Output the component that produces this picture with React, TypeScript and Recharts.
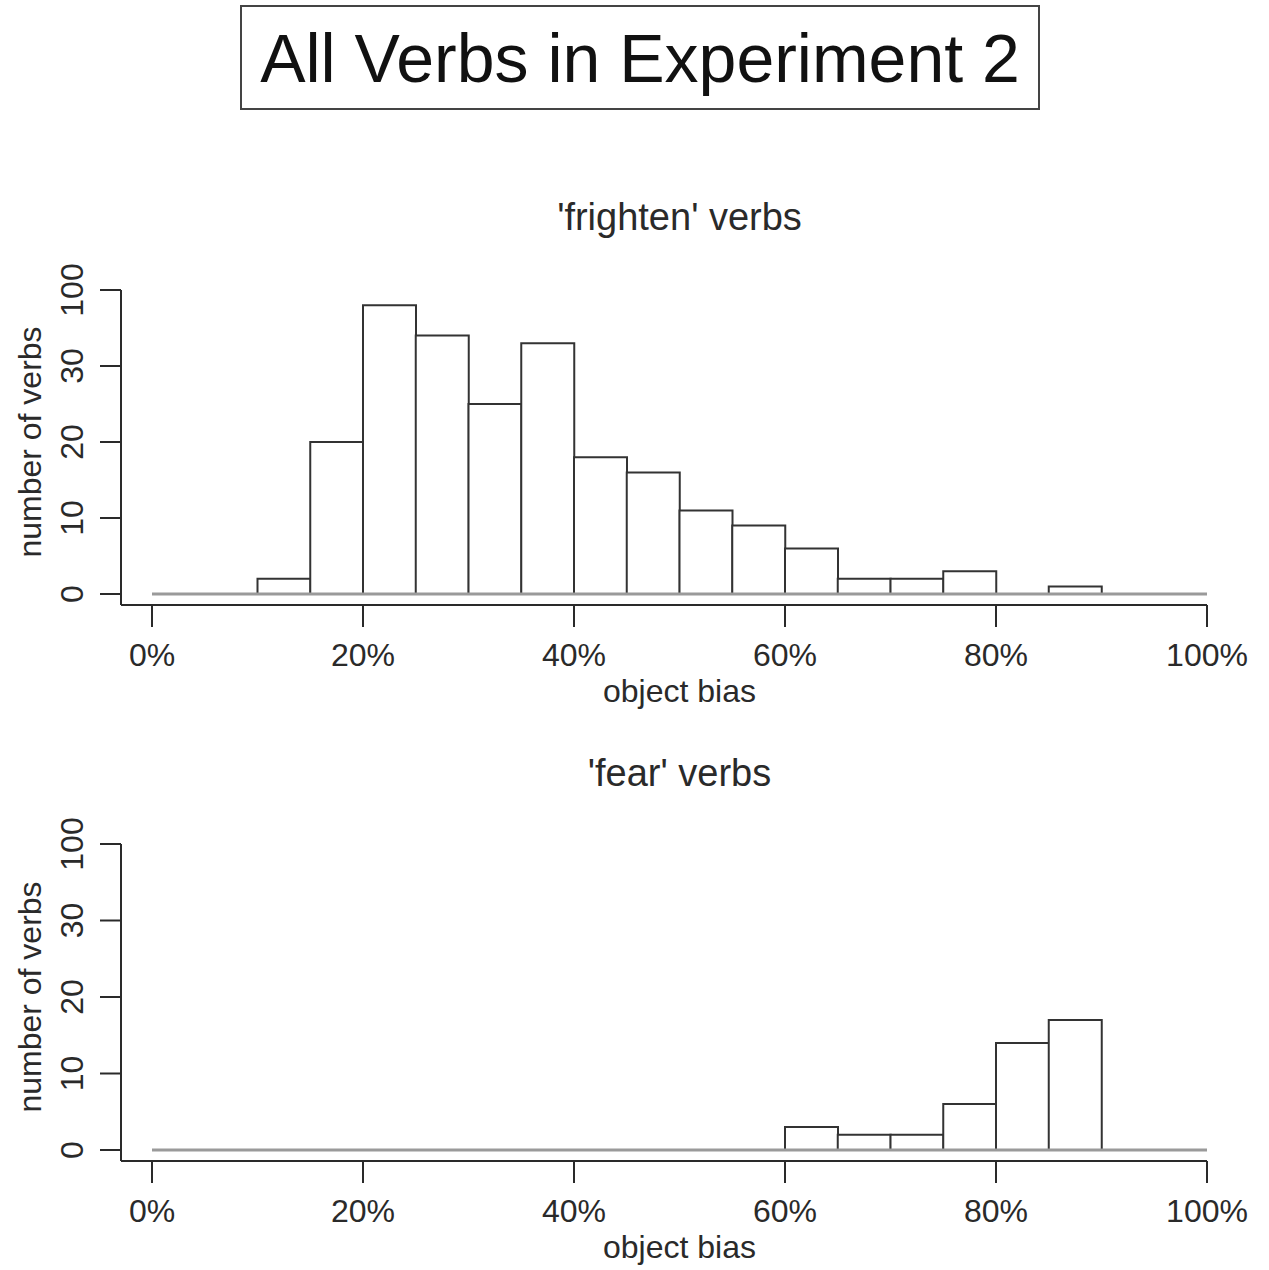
import { BarChart, Bar, XAxis, YAxis, ReferenceLine } from "recharts";

const binStarts = [0, 5, 10, 15, 20, 25, 30, 35, 40, 45, 50, 55, 60, 65, 70, 75, 80, 85, 90, 95];
const binEnd = 100;
const frightenCounts = [0, 0, 2, 20, 38, 34, 25, 33, 18, 16, 11, 9, 6, 2, 2, 3, 0, 1, 0, 0];
const fearCounts = [0, 0, 0, 0, 0, 0, 0, 0, 0, 0, 0, 0, 3, 2, 2, 6, 14, 17, 0, 0];
const xTicks = [0, 20, 40, 60, 80, 100];
const yTicks = [0, 10, 20, 30, 40];
const yTickLabels = ["0", "10", "20", "30", "100"];

const FONT = "'Liberation Sans', Arial, Helvetica, sans-serif";
const INK = "#2a2a2a";

function YTick(props: any) {
  const { x, y, payload } = props;
  const idx = yTicks.indexOf(payload.value);
  const tx = x - 15;
  return (
    <text
      x={tx}
      y={y}
      transform={`rotate(-90 ${tx} ${y})`}
      textAnchor="middle"
      fontSize={32}
      fontFamily={FONT}
      fill={INK}
    >
      {idx >= 0 ? yTickLabels[idx] : payload.value}
    </text>
  );
}

interface PanelProps {
  counts: number[];
  title: string;
  top: number; // page y of the svg
  plotHeight: number;
}

function Panel({ counts, title, top, plotHeight }: PanelProps) {
  const data = binStarts.map((lo, i) => ({ bin: `${lo}`, lo, count: counts[i] }));
  const marginTop = 40;
  const axisH = 80;
  const height = marginTop + plotHeight + axisH;
  const xAxisY = top + marginTop + plotHeight;
  const plotMid = top + marginTop + (plotHeight - 11) / 2;

  return (
    <>
      <div
        style={{
          position: "absolute", left: 152, width: 1055, top: xAxisY - 407,
          textAlign: "center", fontSize: 38, lineHeight: "38px", fontFamily: FONT, color: INK,
        }}
      >
        {title}
      </div>
      <div style={{ position: "absolute", left: 0, top }}>
        <BarChart
          width={1269}
          height={height}
          data={data}
          margin={{ top: marginTop, right: 62, bottom: 0, left: 0 }}
          barCategoryGap={0}
          barGap={0}
        >
          <XAxis xAxisId="cat" dataKey="bin" hide height={0} padding={{ left: 31, right: 0 }} />
          <XAxis
            xAxisId="num"
            type="number"
            dataKey="lo"
            domain={[0, binEnd]}
            ticks={xTicks}
            tickFormatter={(v: number) => `${v}%`}
            padding={{ left: 31, right: 0 }}
            height={axisH}
            tickSize={22}
            tickMargin={16}
            axisLine={{ stroke: INK, strokeWidth: 2 }}
            tickLine={{ stroke: INK, strokeWidth: 2 }}
            tick={{ fill: INK, fontSize: 32, fontFamily: FONT }}
            interval={0}
          />
          <YAxis
            domain={[0, 40]}
            ticks={yTicks}
            width={121}
            tickSize={21}
            padding={{ top: 0, bottom: 11 }}
            axisLine={{ stroke: INK, strokeWidth: 2 }}
            tickLine={{ stroke: INK, strokeWidth: 2 }}
            tick={<YTick />}
            interval={0}
          />
          <ReferenceLine
            xAxisId="num"
            segment={[{ x: binStarts[0], y: 0 }, { x: binEnd, y: 0 }]}
            stroke="#9a9a9a"
            strokeWidth={3}
          />
          <Bar
            xAxisId="cat"
            dataKey="count"
            fill="#ffffff"
            stroke="#333333"
            strokeWidth={2}
            isAnimationActive={false}
          />
        </BarChart>
      </div>
      <div
        style={{
          position: "absolute", left: 152, width: 1055, top: xAxisY + 70,
          textAlign: "center", fontSize: 32, lineHeight: "32px", fontFamily: FONT, color: INK,
        }}
      >
        object bias
      </div>
      <div
        style={{
          position: "absolute", left: 30 - 200, top: plotMid - 20, width: 400, height: 40,
          transform: "rotate(-90deg)", textAlign: "center", fontSize: 32, lineHeight: "40px",
          fontFamily: FONT, color: INK,
        }}
      >
        number of verbs
      </div>
    </>
  );
}

export default function App() {
  return (
    <div style={{ position: "absolute", left: 0, top: 0, width: 1269, height: 1270, background: "#fff" }}>
      <div
        style={{
          position: "absolute", left: 240, top: 5, width: 800, height: 105, boxSizing: "border-box",
          border: "2px solid #444",
        }}
      />
      <div
        style={{
          position: "absolute", left: 240, width: 800, top: 24, textAlign: "center",
          fontSize: 68, lineHeight: "68px", fontFamily: FONT, color: "#111",
        }}
      >
        All Verbs in Experiment 2
      </div>
      <Panel counts={frightenCounts} title="'frighten' verbs" top={250} plotHeight={315} />
      <Panel counts={fearCounts} title="'fear' verbs" top={804} plotHeight={317} />
    </div>
  );
}
